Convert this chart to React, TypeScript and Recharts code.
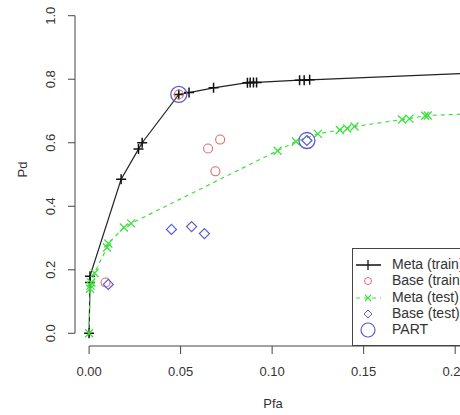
import React from 'react';
import { ScatterChart, Scatter, XAxis, YAxis, ReferenceLine } from 'recharts';

// Pfa / Pd pairs
const metaTrain = [
  { x: 0, y: 0 }, { x: 0.0005, y: 0.16 }, { x: 0.0005, y: 0.18 },
  { x: 0.0175, y: 0.485 }, { x: 0.027, y: 0.58 }, { x: 0.029, y: 0.6 },
  { x: 0.049, y: 0.752 }, { x: 0.0546, y: 0.758 }, { x: 0.068, y: 0.773 },
  { x: 0.0865, y: 0.789 }, { x: 0.088, y: 0.79 }, { x: 0.0898, y: 0.79 }, { x: 0.0915, y: 0.79 },
  { x: 0.115, y: 0.797 }, { x: 0.1175, y: 0.797 }, { x: 0.1205, y: 0.798 },
  { x: 0.216, y: 0.821 },
];
const metaTest = [
  { x: 0, y: 0 }, { x: 0.0005, y: 0.14 }, { x: 0.0008, y: 0.15 }, { x: 0.0012, y: 0.16 },
  { x: 0.003, y: 0.19 }, { x: 0.0098, y: 0.27 }, { x: 0.0105, y: 0.283 },
  { x: 0.019, y: 0.333 }, { x: 0.023, y: 0.346 },
  { x: 0.103, y: 0.575 }, { x: 0.113, y: 0.604 }, { x: 0.125, y: 0.628 },
  { x: 0.137, y: 0.64 }, { x: 0.141, y: 0.645 }, { x: 0.145, y: 0.651 },
  { x: 0.171, y: 0.673 }, { x: 0.175, y: 0.676 }, { x: 0.1836, y: 0.685 }, { x: 0.185, y: 0.686 },
  { x: 0.214, y: 0.692 },
];
const baseTrain = [
  { x: 0.009, y: 0.16 }, { x: 0.049, y: 0.752 },
  { x: 0.065, y: 0.582 }, { x: 0.0716, y: 0.61 }, { x: 0.069, y: 0.51 },
];
const baseTest = [
  { x: 0.0105, y: 0.154 }, { x: 0.045, y: 0.327 }, { x: 0.056, y: 0.336 },
  { x: 0.063, y: 0.314 }, { x: 0.119, y: 0.607 },
];
const part = [{ x: 0.049, y: 0.752 }, { x: 0.119, y: 0.607 }];

const xTicks = [0, 0.05, 0.1, 0.15, 0.2, 0.25];
const yTicks = [0, 0.2, 0.4, 0.6, 0.8, 1];
const legendItems = ['Meta (train)', 'Base (train)', 'Meta (test)', 'Base (test)', 'PART'];

const RED = '#e36a6a';
const BLUE = '#5a5ad8';
const GREEN = '#3ee03e';
const INK = '#333';
const XMIN = -0.0077;
const YMIN = -0.04;

const Plus = ({ cx, cy }: any) => (
  <path d={`M${cx - 5},${cy}h10M${cx},${cy - 5}v10`} stroke="#111" strokeWidth={1.5} fill="none" />
);
const Cross = ({ cx, cy }: any) => (
  <path d={`M${cx - 4},${cy - 4}l8,8M${cx + 4},${cy - 4}l-8,8`} stroke={GREEN} strokeWidth={1.3} fill="none" />
);
const Ring = ({ cx, cy }: any) => <circle cx={cx} cy={cy} r={4.5} stroke={RED} strokeWidth={1.1} fill="none" />;
const Diamond = ({ cx, cy }: any) => (
  <path d={`M${cx},${cy - 5}L${cx + 5},${cy}L${cx},${cy + 5}L${cx - 5},${cy}Z`} stroke={BLUE} strokeWidth={1.2} fill="none" />
);
const BigRing = ({ cx, cy }: any) => <circle cx={cx} cy={cy} r={8} stroke={BLUE} strokeWidth={1.3} fill="none" />;

const YTick = ({ x, y, payload }: any) => (
  <text x={x - 11} y={y} transform={`rotate(-90 ${x - 11} ${y})`} textAnchor="middle" fontSize={13} fill={INK}>
    {Number(payload.value).toFixed(1)}
  </text>
);

function LegendSymbol({ i }: { i: number }) {
  const cx = 15, cy = 8;
  return (
    <svg width={32} height={16} style={{ position: 'absolute', left: 0, top: -8 }}>
      {i === 0 && <path d={`M3,${cy}h25M${cx},${cy - 5}v10`} stroke="#111" strokeWidth={1.3} />}
      {i === 1 && <circle cx={cx} cy={cy} r={3.5} stroke={RED} fill="none" />}
      {i === 2 && (
        <g stroke={GREEN} strokeWidth={1.2}>
          <path d={`M3,${cy}h25`} strokeDasharray="4 4" />
          <path d={`M${cx - 3},${cy - 3}l6,6M${cx + 3},${cy - 3}l-6,6`} />
        </g>
      )}
      {i === 3 && <path d={`M${cx},${cy - 4}L${cx + 4},${cy}L${cx},${cy + 4}L${cx - 4},${cy}Z`} stroke={BLUE} fill="none" />}
      {i === 4 && <circle cx={cx} cy={cy} r={7} stroke={BLUE} strokeWidth={1.2} fill="none" />}
    </svg>
  );
}

export default function App() {
  const font = 'Arial, "Liberation Sans", sans-serif';
  return (
    <div style={{ position: 'absolute', left: 0, top: 0, width: 460, height: 415, overflow: 'hidden', background: '#fff', fontFamily: font }}>
      <ScatterChart width={575} height={415} margin={{ top: 3, right: 10, bottom: 39, left: 0 }}>
        <XAxis
          type="number"
          dataKey="x"
          domain={[XMIN, 0.26]}
          ticks={xTicks}
          tickFormatter={(v: number) => v.toFixed(2)}
          axisLine={false}
          tickSize={8}
          tickMargin={13}
          height={30}
          tick={{ fontSize: 13, fill: INK, fontFamily: font }}
          tickLine={{ stroke: '#444' }}
        />
        <YAxis
          type="number"
          dataKey="y"
          domain={[YMIN, 1.04]}
          ticks={yTicks}
          axisLine={false}
          tickSize={7}
          width={75}
          tick={<YTick />}
          tickLine={{ stroke: '#444' }}
        />
        <ReferenceLine segment={[{ x: 0, y: YMIN }, { x: 0.25, y: YMIN }]} stroke="#444" ifOverflow="visible" />
        <ReferenceLine segment={[{ x: XMIN, y: 0 }, { x: XMIN, y: 1 }]} stroke="#444" ifOverflow="visible" />
        <Scatter data={metaTrain} line={{ stroke: '#222', strokeWidth: 1.2 }} shape={<Plus />} isAnimationActive={false} />
        <Scatter data={metaTest} line={{ stroke: GREEN, strokeWidth: 1.2, strokeDasharray: '4 4' }} shape={<Cross />} isAnimationActive={false} />
        <Scatter data={baseTrain} shape={<Ring />} isAnimationActive={false} />
        <Scatter data={baseTest} shape={<Diamond />} isAnimationActive={false} />
        <Scatter data={part} shape={<BigRing />} isAnimationActive={false} />
      </ScatterChart>
      <div style={{ position: 'absolute', left: 352, top: 248, width: 140, height: 98, border: '1px solid #444', background: '#fff', boxSizing: 'border-box' }}>
        {legendItems.map((t, i) => (
          <div key={t} style={{ position: 'absolute', left: 0, top: 16 + i * 16.3, height: 0 }}>
            <LegendSymbol i={i} />
            <span style={{ position: 'absolute', left: 39, top: -9, fontSize: 14, lineHeight: '17px', color: INK, whiteSpace: 'nowrap' }}>{t}</span>
          </div>
        ))}
      </div>
      <div style={{ position: 'absolute', left: 243, top: 396, width: 60, textAlign: 'center', fontSize: 13, color: INK }}>Pfa</div>
      <div style={{ position: 'absolute', left: 2, top: 162, width: 40, textAlign: 'center', fontSize: 13, color: INK, transform: 'rotate(-90deg)' }}>Pd</div>
    </div>
  );
}
